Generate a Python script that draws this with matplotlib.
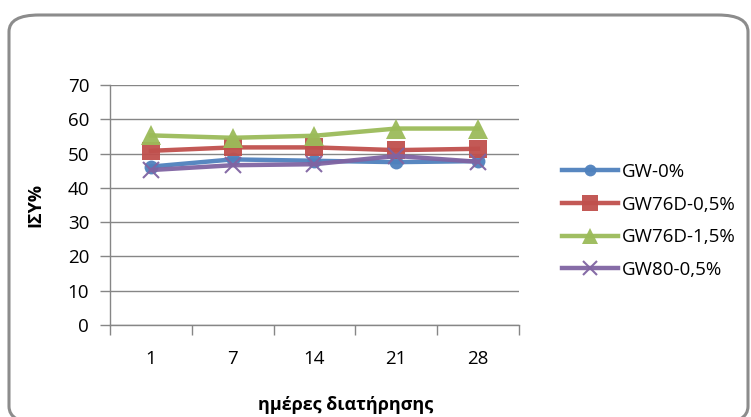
import numpy as np
import matplotlib.pyplot as plt
from matplotlib.patches import FancyBboxPatch

plt.rcParams['font.family'] = ['Open Sans', 'DejaVu Sans']

days = ["1", "7", "14", "21", "28"]
gw_0 = [46.2, 48.3, 47.9, 47.5, 47.8]
gw76d_05 = [50.8, 51.8, 51.8, 51.0, 51.4]
gw76d_15 = [55.3, 54.6, 55.2, 57.3, 57.3]
gw80_05 = [45.2, 46.6, 46.9, 49.3, 47.6]

series = [
    ("GW-0%", gw_0, "#4F81BD", "o", 10),
    ("GW76D-0,5%", gw76d_05, "#C0504D", "s", 13),
    ("GW76D-1,5%", gw76d_15, "#9BBB59", "^", 14),
    ("GW80-0,5%", gw80_05, "#8064A2", "x", 12),
]

W, H = 751, 417
fig = plt.figure(figsize=(W / 100, H / 100), dpi=100)

# rounded outer frame like the Excel chart area
frame = FancyBboxPatch((9 / W, -6 / H), 739 / W, (H - 15 + 6) / H,
                       boxstyle="round,pad=0,rounding_size=0.04",
                       transform=fig.transFigure, fill=False,
                       edgecolor="#8c8c8c", linewidth=2.2, zorder=0)
fig.patches.append(frame)

ax = fig.add_axes([110 / W, (H - 325) / H, 409 / W, 240 / H])

x = np.arange(len(days))
for name, vals, col, mk, ms in series:
    mew = 1.5 if mk == "x" else 0
    ax.plot(x, vals, color=col, lw=3.2, marker=mk, markersize=ms,
            markeredgewidth=mew, markeredgecolor=col, label=name,
            alpha=0.95, zorder=3)

ax.set_ylim(0, 70)
ax.set_yticks(np.arange(0, 71, 10))
ax.set_xlim(-0.5, 4.5)
ax.set_xticks(np.arange(-0.5, 5, 1))
ax.set_xticklabels([])
ax.set_xticks(x, minor=True)
ax.set_xticklabels(days, minor=True)
ax.tick_params(axis="x", which="minor", length=0, pad=18, labelsize=13.5)
ax.tick_params(axis="x", which="major", length=7, color="#868686", width=1)
ax.tick_params(axis="y", length=7, color="#868686", width=1, pad=8, labelsize=13.5)

ax.grid(axis="y", color="#868686", lw=1)
ax.set_axisbelow(True)
for s in ["top", "right"]:
    ax.spines[s].set_visible(False)
for s in ["left", "bottom"]:
    ax.spines[s].set_color("#868686")
    ax.spines[s].set_linewidth(1)

fig.text(35 / W, 1 - 205 / H, "ΙΣΥ%", rotation=90, fontweight="bold",
         fontsize=13, ha="center", va="center")
fig.text(346 / W, 1 - 405 / H, "ημέρες διατήρησης", fontweight="bold",
         fontsize=13, ha="center", va="center")

leg = fig.legend(loc="upper left", bbox_to_anchor=(545 / W, 1 - 146 / H),
                 frameon=False, fontsize=13.5, handlelength=3.0,
                 handletextpad=0.2, labelspacing=0.78, markerscale=0.85)

fig.savefig("out.png", dpi=100)
